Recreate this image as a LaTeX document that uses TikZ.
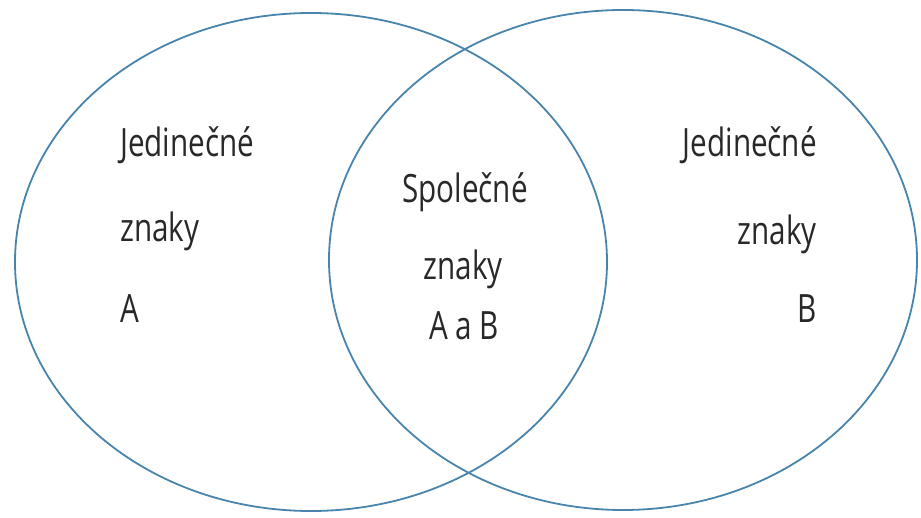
\documentclass[tikz,border=0pt]{standalone}
\usepackage{fontspec}
\setmainfont[FakeStretch=0.76]{Open Sans}
\usetikzlibrary{shapes.geometric}
\definecolor{ringblue}{RGB}{72,132,172}
\definecolor{txt}{RGB}{40,40,40}
\begin{document}
\begin{tikzpicture}[x=1pt,y=-1pt,
  ring/.style={ellipse,draw=ringblue,line width=1.8pt,inner sep=0pt},
  lbl/.style={inner sep=0pt,text=txt,font=\fontsize{39}{39}\selectfont}]
\useasboundingbox (0,0) rectangle (921,518);
\node[ring,minimum width=592pt,minimum height=498pt] (A) at (311,262) {};
\node[ring,minimum width=588pt,minimum height=500pt] (B) at (623,260) {};
% left
\node[lbl,anchor=base west] (l1) at (120,157) {Jedinečné};
\node[lbl,anchor=base west] (l2) at (120,242) {znaky};
\node[lbl,anchor=base west] (l3) at (120,323) {A};
% center
\node[lbl,anchor=base] (c1) at (465,203) {Společné};
\node[lbl,anchor=base] (c2) at (463,280) {znaky};
\node[lbl,anchor=base] (c3) at (464,340) {A a B};
% right
\node[lbl,anchor=base east] (r1) at (817,157) {Jedinečné};
\node[lbl,anchor=base east] (r2) at (817,245) {znaky};
\node[lbl,anchor=base east] (r3) at (817,323) {B};
\end{tikzpicture}
\end{document}
